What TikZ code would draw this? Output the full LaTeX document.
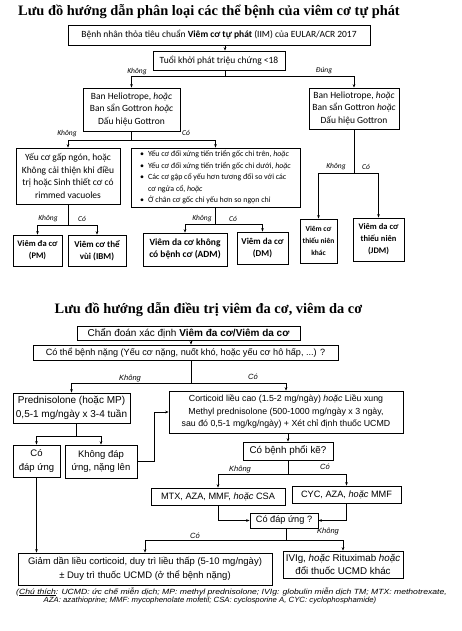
\documentclass[tikz,border=0pt]{standalone}
\usepackage{fontspec}
\setmainfont{Liberation Sans}
\newfontfamily\calf{Carlito}
\newfontfamily\timf{Liberation Serif}
\usetikzlibrary{arrows.meta,calc}
\tikzset{
  boxa/.style={draw, line width=0.7pt, inner sep=0pt, align=center, font=\calf\fontsize{9.5}{12.5}\selectfont},
  boxb/.style={draw, line width=0.7pt, inner sep=0pt, align=center, font=\calf\bfseries\fontsize{9}{12}\selectfont},
  boxc/.style={draw, line width=0.7pt, inner sep=0pt, align=center, font=\fontsize{9.5}{13.5}\selectfont},
  arr/.style={-{Stealth[length=3.5pt,width=2.6pt]}, line width=0.6pt},
  ln/.style={line width=0.6pt},
  laba/.style={inner sep=0pt, font=\calf\itshape\fontsize{7.5}{9}\selectfont},
  labc/.style={inner sep=0pt, font=\itshape\fontsize{7.5}{9}\selectfont},
  ttl/.style={inner sep=0pt, font=\timf\bfseries\fontsize{14.4}{16}\selectfont},
  note/.style={inner sep=0pt, font=\itshape\fontsize{7.5}{9}\selectfont}
}
\begin{document}
\begin{tikzpicture}[x=1pt,y=-1pt]
\useasboundingbox[fill=white] (0,0) rectangle (461,631);
% ---------- diagram 1 ----------
\node[ttl] (t1) at (209,12) {Lưu đồ hướng dẫn phân loại các thể bệnh của viêm cơ tự phát};
\node[boxa, minimum width=302pt, minimum height=20pt] (b1) at (219,35) {Bệnh nhân thỏa tiêu chuẩn \textbf{Viêm cơ tự phát} (IIM) của EULAR/ACR 2017};
\node[boxa, minimum width=132pt, minimum height=19pt] (b2) at (219,60.5) {Tuổi khởi phát triệu chứng <18};
\coordinate (s1) at (225,76);
\draw[arr] (b1.south -| s1) -- (b2.north -| s1);
\draw[ln] (b2.south -| s1) -- (s1);
\node[boxa, minimum width=97pt, minimum height=43pt] (hl) at (131.5,109.5) {Ban Heliotrope, \textit{hoặc}\\Ban sẩn Gottron \textit{hoặc}\\Dấu hiệu Gottron};
\node[boxa, minimum width=90pt, minimum height=41pt] (hr) at (354,108.5) {Ban Heliotrope, \textit{hoặc}\\Ban sẩn Gottron \textit{hoặc}\\Dấu hiệu Gottron};
\draw[arr] (s1) -| (hl.north);
\draw[arr] (s1) -| (hr.north);
\node[laba] (l1) at (137,72) {Không};
\node[laba] (l2) at (324,71) {Đúng};
% left branch
\node[boxa, minimum width=104pt, minimum height=56pt] (pmc) at (68,176) {Yếu cơ gấp ngón, hoặc\\Không cải thiện khi điều\\trị hoặc Sinh thiết cơ có\\rimmed vacuoles};
\node[boxa, align=left, font=\calf\fontsize{7.9}{11.5}\selectfont, minimum width=169pt, minimum height=59pt] (bul) at (215.5,177.5) {\begin{tabular}{@{}l@{\hspace{4pt}}l@{}}
•& Yếu cơ đối xứng tiến triển gốc chi trên, \textit{hoặc}\\
•& Yếu cơ đối xứng tiến triển gốc chi dưới, \textit{hoặc}\\
•& Các cơ gập cổ yếu hơn tương đối so với các\\
 & cơ ngửa cổ, \textit{hoặc}\\
•& Ở chân cơ gốc chi yếu hơn so ngọn chi
\end{tabular}};
\coordinate (s2) at (131.5,140);
\draw[ln] (hl.south) -- (s2);
\draw[arr] (s2) -| (pmc.north);
\draw[arr] (s2) -| (bul.north);
\node[laba] (l3) at (67,134) {Không};
\node[laba] (l4) at (186,133) {Có};
% right branch
\node[boxb, font=\calf\bfseries\fontsize{7.5}{12}\selectfont, minimum width=37pt, minimum height=44pt] (jo) at (318.5,241) {Viêm cơ\\thiếu niên\\khác};
\node[boxb, font=\calf\bfseries\fontsize{8.5}{12}\selectfont, minimum width=51pt, minimum height=43pt] (jdm) at (378.5,239.5) {Viêm da cơ\\thiếu niên\\(JDM)};
\coordinate (s3) at (354,173);
\draw[ln] (hr.south) -- (s3);
\draw[arr] (s3) -| (jo.north);
\draw[arr] (s3) -| (jdm.north);
\node[laba] (l5) at (336,167) {Không};
\node[laba] (l6) at (366,167) {Có};
% PM / IBM
\node[boxb, font=\calf\bfseries\fontsize{8.5}{12}\selectfont, minimum width=49pt, minimum height=31pt] (pm) at (37.5,250.5) {Viêm đa cơ\\(PM)};
\node[boxb, minimum width=58pt, minimum height=31pt] (ibm) at (97,250.5) {Viêm cơ thể\\vùi (IBM)};
\coordinate (s4) at (68,225);
\draw[ln] (pmc.south) -- (s4);
\draw[arr] (s4) -| (pm.north);
\draw[arr] (s4) -| (ibm.north);
\node[laba] (l7) at (48,219) {Không};
\node[laba] (l8) at (82,219) {Có};
% ADM / DM
\node[boxb, font=\calf\bfseries\fontsize{9.5}{12}\selectfont, minimum width=84pt, minimum height=33pt] (adm) at (185,249.5) {Viêm da cơ không\\có bệnh cơ (ADM)};
\node[boxb, minimum width=51pt, minimum height=32pt] (dm) at (262.5,248) {Viêm da cơ\\(DM)};
\coordinate (s5) at (215.5,224);
\draw[ln] (bul.south) -- (s5);
\draw[arr] (s5) -| (adm.north);
\draw[arr] (s5) -| (dm.north);
\node[laba] (l9) at (202,219) {Không};
\node[laba] (l10) at (233,219) {Có};
% ---------- diagram 2 ----------
\node[ttl] (t2) at (208.5,310) {Lưu đồ hướng dẫn điều trị viêm đa cơ, viêm da cơ};
\node[boxc, font=\fontsize{10}{12}\selectfont, minimum width=223pt, minimum height=14pt] (c1) at (188.5,333) {Chẩn đoán xác định \textbf{Viêm đa cơ/Viêm da cơ}};
\node[boxc, font=\fontsize{9.1}{12}\selectfont, minimum width=305pt, minimum height=15pt] (c2) at (185.5,352.5) {Có thể bệnh nặng (Yếu cơ nặng, nuốt khó, hoặc yếu cơ hô hấp, ...) ?};
\coordinate (s6) at (191,383);
\draw[arr] (c1.south -| s6) -- (c2.north -| s6);
\draw[ln] (c2.south -| s6) -- (s6);
\node[boxc, font=\fontsize{10}{14}\selectfont, minimum width=117pt, minimum height=30pt] (pred) at (71.5,408) {Prednisolone (hoặc MP)\\0,5-1 mg/ngày x 3-4 tuần};
\node[boxc, font=\fontsize{8.8}{12.5}\selectfont, minimum width=234pt, minimum height=42pt] (cort) at (286,412) {Corticoid liều cao (1.5-2 mg/ngày) \textit{hoặc} Liều xung\\Methyl prednisolone (500-1000 mg/ngày x 3 ngày,\\sau đó 0,5-1 mg/kg/ngày) + Xét chỉ định thuốc UCMD};
\draw[arr] (s6) -| (pred.north);
\draw[arr] (s6) -| (cort.north);
\node[labc] (l11) at (130,379) {Không};
\node[labc] (l12) at (253,377) {Có};
\node[boxc, minimum width=47pt, minimum height=32pt] (yes1) at (36.5,461) {Có\\đáp ứng};
\node[boxc, minimum width=72pt, minimum height=33pt] (no1) at (101,461.5) {Không đáp\\ứng, nặng lên};
\coordinate (s7) at (76,436);
\draw[ln] (pred.south -| s7) -- (s7);
\draw[arr] (s7) -| (yes1.north);
\draw[arr] (s7) -| (no1.north);
\draw[arr] (no1.east) -- ++(17,0) |- (cort.west);
\node[boxc, font=\fontsize{9.8}{12}\selectfont, minimum width=90pt, minimum height=18pt] (lung) at (288,451) {Có bệnh phổi kẽ?};
\draw[arr] (lung.north |- cort.south) -- (lung.north);
\node[boxc, font=\fontsize{9.2}{12}\selectfont, minimum width=134pt, minimum height=17pt] (mtx) at (218,496.5) {MTX, AZA, MMF, \textit{hoặc} CSA};
\node[boxc, font=\fontsize{9.2}{12}\selectfont, minimum width=109pt, minimum height=17pt] (cyc) at (346.5,494.5) {CYC, AZA, \textit{hoặc} MMF};
\coordinate (s8) at (288,474);
\draw[ln] (lung.south) -- (s8);
\draw[arr] (s8) -| (mtx.north);
\draw[arr] (s8) -| (cyc.north);
\node[labc] (l13) at (240,470) {Không};
\node[labc] (l14) at (325,467) {Có};
\node[boxc, font=\fontsize{9.2}{12}\selectfont, minimum width=68pt, minimum height=15pt] (resp) at (284,520.5) {Có đáp ứng ?};
\draw[arr] (mtx.south) |- (resp.west);
\draw[arr] (cyc.south) |- (resp.east);
\node[boxc, minimum width=254pt, minimum height=32pt] (taper) at (145,569) {Giảm dần liều corticoid, duy trì liều thấp (5-10 mg/ngày)\\± Duy trì thuốc UCMD (ở thể bệnh nặng)};
\node[boxc, font=\fontsize{9.8}{13.5}\selectfont, minimum width=120pt, minimum height=27pt] (ivig) at (343,564.5) {IVIg, \textit{hoặc} Rituximab \textit{hoặc}\\đổi thuốc UCMD khác};
\coordinate (s9) at (286,540);
\draw[ln] (resp.south -| s9) -- (s9);
\draw[arr] (s9) -| (taper.north);
\draw[arr] (s9) -| (ivig.north);
\draw[arr] (yes1.south) -- (yes1.south |- taper.north);
\node[labc] (l15) at (195,536) {Có};
\node[labc] (l16) at (328,532) {Không};
\node[note] (n1) at (231.5,592) {\scalebox{1.148}[1]{(\underline{Chú thích}: UCMD: ức chế miễn dịch; MP: methyl prednisolone; IVIg: globulin miễn dịch TM; MTX: methotrexate,}};
\node[note] (n2) at (210,601) {\scalebox{1.035}[1]{AZA: azathioprine; MMF: mycophenolate mofetil; CSA: cyclosporine A, CYC: cyclophosphamide)}};
\end{tikzpicture}
\end{document}
